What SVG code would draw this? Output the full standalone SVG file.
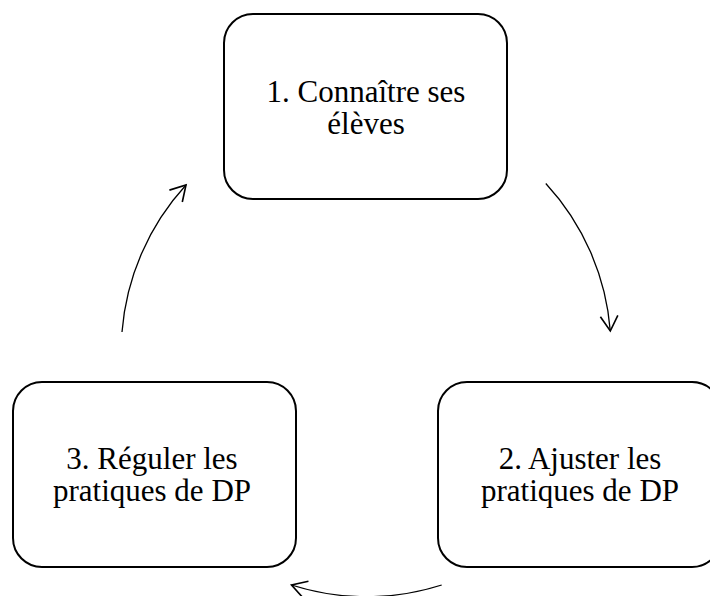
<svg xmlns="http://www.w3.org/2000/svg" width="710" height="596" viewBox="0 0 710 596">
<style>
.box{fill:#fff;stroke:#000;stroke-width:2}
.lbl{font-family:'Liberation Serif','Times New Roman',serif;font-size:31px;fill:#000;text-anchor:middle}
.arc{fill:none;stroke:#000;stroke-width:1.3}
</style>
<defs>
<marker id="ah" markerUnits="userSpaceOnUse" markerWidth="20" markerHeight="20" viewBox="-1 -1 16 16" refX="13" refY="7" orient="auto">
<path d="M1,0 L13,7 L1,14" fill="none" stroke="#000" stroke-width="1.3"/>
</marker>
</defs>
<rect width="710" height="596" fill="#fff"/>
<g id="connectors">
<path class="arc" d="M545.8,183.5 A246 246 0 0 1 610.3,331" marker-end="url(#ah)"/>
<path class="arc" d="M441.7,585 A246 246 0 0 1 291.5,585" marker-end="url(#ah)"/>
<path class="arc" d="M122,332 A246 246 0 0 1 186,185" marker-end="url(#ah)"/>
</g>
<g id="node1">
<rect class="box" x="224" y="14" width="283" height="185" rx="29" ry="29"/>
<text class="lbl" x="366" y="102"><tspan x="366" y="102">1. Connaître ses</tspan><tspan x="366" y="134">élèves</tspan></text>
</g>
<g id="node2">
<rect class="box" x="438" y="382" width="283" height="185" rx="29" ry="29"/>
<text class="lbl" x="580" y="469"><tspan x="580" y="469">2. Ajuster les</tspan><tspan x="580" y="501">pratiques de DP</tspan></text>
</g>
<g id="node3">
<rect class="box" x="13" y="382" width="283" height="185" rx="29" ry="29"/>
<text class="lbl" x="152" y="469"><tspan x="152" y="469">3. Réguler les</tspan><tspan x="152" y="501">pratiques de DP</tspan></text>
</g>
</svg>
